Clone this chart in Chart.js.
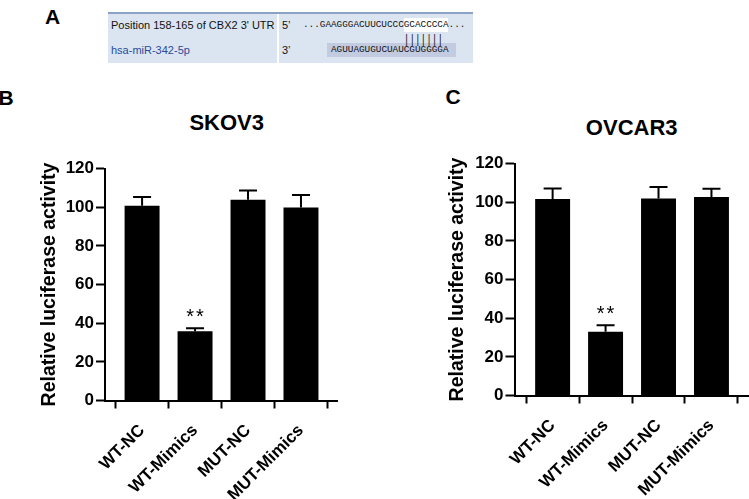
<!DOCTYPE html>
<html>
<head>
<meta charset="utf-8">
<script src="https://cdn.jsdelivr.net/npm/chart.js@4.4.1/dist/chart.umd.min.js"></script>
<style>
  html, body { margin: 0; padding: 0; }
  body { width: 749px; height: 499px; position: relative; overflow: hidden; background: #fff;
         font-family: "Liberation Sans", Arial, sans-serif; color: #000; }
  .abs { position: absolute; white-space: nowrap; }
  .letter { font-size: 21px; line-height: 21px; font-weight: bold; }
  .ctitle { font-size: 22px; line-height: 22px; font-weight: bold; width: 200px; text-align: center; }
  .seq { font-family: "Liberation Mono", "DejaVu Sans Mono", monospace; font-size: 9.33px; line-height: 12px; color: #111; }
  canvas { position: absolute; }
</style>
</head>
<body>

<!-- Panel A: alignment box -->
<div class="abs letter" style="left:45px; top:6px;">A</div>
<div class="abs" style="left:108px; top:12px; width:365px; height:51px; background:#dbe5f2; border-top:2px solid #8aa3c4; box-sizing:border-box;"></div>
<div class="abs" style="left:277px; top:14px; width:2px; height:49px; background:#ffffff;"></div>
<div class="abs" style="left:404px; top:18px; width:44px; height:14px; background:#ffffff;"></div>
<div class="abs" style="left:327px; top:43px; width:129px; height:14px; background:#c3cbe1;"></div>
<div class="abs" style="left:111px; top:18px; font-size:11px; line-height:14px; color:#111;">Position 158-165 of CBX2 3' UTR</div>
<div class="abs" style="left:111px; top:43px; font-size:11px; line-height:14px; color:#2a4b9b;">hsa-miR-342-5p</div>
<div class="abs" style="left:282px; top:18px; font-size:11px; line-height:14px; color:#111;">5’</div>
<div class="abs" style="left:282px; top:43px; font-size:11px; line-height:14px; color:#111;">3’</div>
<div class="abs seq" id="seqUp" style="left:303px; top:19px;"></div>
<div class="abs seq" id="seqPair" style="left:403.8px; top:32px; transform:scaleY(1.35); transform-origin:top left;"></div>
<div class="abs seq" id="seqDown" style="left:331px; top:44px;"></div>

<!-- Panel letters and chart titles -->
<div class="abs letter" style="left:-1.5px; top:87px;">B</div>
<div class="abs letter" style="left:445.5px; top:86px;">C</div>
<div class="abs ctitle" id="titleB" style="left:126.7px; top:112px;"></div>
<div class="abs ctitle" id="titleC" style="left:531.7px; top:116.5px;"></div>

<canvas id="chartB" width="345" height="419" style="left:0px; top:80px; width:345px; height:419px;"></canvas>
<canvas id="chartC" width="349" height="419" style="left:400px; top:80px; width:349px; height:419px;"></canvas>

<script>
// ---------------- data ----------------
const categories   = ['WT-NC', 'WT-Mimics', 'MUT-NC', 'MUT-Mimics'];
const skov3Means   = [100.7, 35.8, 103.8, 99.8];
const skov3Errors  = [4.6, 1.6, 4.8, 6.5];
const ovcar3Means  = [101.6, 33.0, 101.9, 102.7];
const ovcar3Errors = [5.5, 3.3, 6.0, 4.2];
const significance = ['', '**', '', ''];
const yTicks       = [0, 20, 40, 60, 80, 100, 120];
const chartTitles  = ['SKOV3', 'OVCAR3'];
const yAxisTitle   = 'Relative luciferase activity';
const utrSequence  = '...GAAGGGACUUCUCCCGCACCCCA...';
const pairing      = '|||||||';
const mirSequence  = 'AGUUAGUGUCUAUCGUGGGGA';

document.getElementById('seqUp').textContent = utrSequence;
document.getElementById('seqPair').textContent = pairing;
document.getElementById('seqDown').textContent = mirSequence;
document.getElementById('titleB').textContent = chartTitles[0];
document.getElementById('titleC').textContent = chartTitles[1];

const FONT = '"Liberation Sans", Arial, sans-serif';

const errorBarPlugin = {
  id: 'errorBars',
  afterDatasetsDraw(chart, args, opts) {
    const { ctx } = chart;
    const xs = chart.scales.x, ys = chart.scales.y;
    const ds = chart.data.datasets[0];
    ctx.save();
    ctx.strokeStyle = '#000';
    ctx.lineWidth = 2;
    ds.data.forEach((pt, i) => {
      const e = opts.errors[i];
      const xc = xs.getPixelForValue(pt.x);
      const yb = ys.getPixelForValue(pt.y);
      const yt = ys.getPixelForValue(pt.y + e);
      ctx.beginPath();
      ctx.moveTo(xc, yb); ctx.lineTo(xc, yt);
      ctx.moveTo(xc - 9, yt); ctx.lineTo(xc + 9, yt);
      ctx.stroke();
      if (opts.marks[i]) {
        ctx.fillStyle = '#000';
        ctx.font = '20px ' + FONT;
        ctx.textAlign = 'center';
        ctx.textBaseline = 'alphabetic';
        try { ctx.letterSpacing = '2px'; } catch (err) {}
        ctx.fillText(opts.marks[i], xc + 1, yt - 5);
      }
    });
    ctx.restore();
  }
};

function makeChart(id, means, errors, geom) {
  return new Chart(document.getElementById(id), {
    type: 'bar',
    data: {
      datasets: [{
        data: means.map((v, i) => ({ x: i, y: v })),
        backgroundColor: '#000',
        borderWidth: 0,
        barPercentage: 0.66,
        categoryPercentage: 1
      }]
    },
    options: {
      responsive: false,
      animation: false,
      devicePixelRatio: 1,
      layout: { padding: { top: geom.top, right: geom.right, left: 0, bottom: 0 } },
      plugins: {
        legend: { display: false },
        tooltip: { enabled: false },
        errorBars: { errors: errors, marks: significance }
      },
      scales: {
        x: {
          type: 'linear',
          min: geom.xmin, max: geom.xmax,
          offset: false,
          afterBuildTicks: s => { s.ticks = categories.map((c, i) => ({ value: i })); },
          afterFit: s => { s.height = geom.xh; },
          ticks: {
            autoSkip: false, maxRotation: 45, minRotation: 45,
            color: '#000', padding: 12,
            font: { family: FONT, size: 17, weight: 'bold' },
            callback: v => categories[v]
          },
          grid: { drawOnChartArea: false, drawTicks: true, tickLength: 8, tickWidth: 2, tickColor: '#000' },
          border: { display: true, color: '#000', width: 2 }
        },
        y: {
          min: 0, max: 120,
          afterBuildTicks: s => { s.ticks = yTicks.map(v => ({ value: v })); },
          afterFit: s => { s.width = geom.yw; },
          ticks: { color: '#000', padding: 2, font: { family: FONT, size: 17, weight: 'bold' } },
          grid: { drawOnChartArea: false, drawTicks: true, tickLength: 9, tickWidth: 2, tickColor: '#000' },
          border: { display: true, color: '#000', width: 2 },
          title: {
            display: true, text: yAxisTitle, color: '#000',
            font: { family: FONT, size: 19.5, weight: 'bold' },
            padding: { top: geom.tp, bottom: 0 }
          }
        }
      }
    },
    plugins: [errorBarPlugin]
  });
}

makeChart('chartB', skov3Means, skov3Errors,
  { top: 88.5, right: 8, xh: 98.5, yw: 105, tp: 38, xmin: -0.7, xmax: 3.68 });
makeChart('chartC', ovcar3Means, ovcar3Errors,
  { top: 83.5, right: 1, xh: 103.5, yw: 114.5, tp: 46, xmin: -0.72, xmax: 3.69 });
</script>
</body>
</html>
